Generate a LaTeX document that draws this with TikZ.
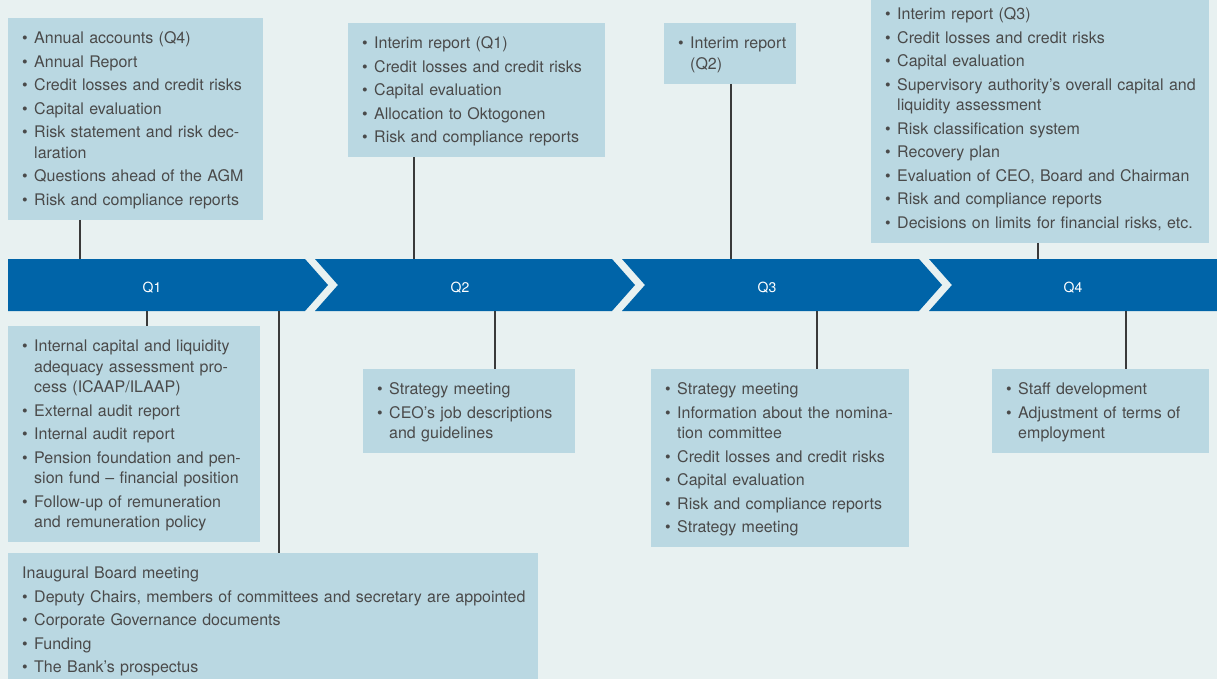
\documentclass[tikz,border=0pt]{standalone}
\usepackage{fontspec}
\setmainfont{TeX Gyre Heros}

\definecolor{bgcol}{HTML}{E8F1F1}
\definecolor{boxcol}{HTML}{BAD8E2}
\definecolor{barcol}{HTML}{0064A8}
\definecolor{txtcol}{HTML}{4A4A4A}
\definecolor{linecol}{HTML}{3A3A3A}

\newcommand\bul{\makebox[12pt][l]{\textbullet}}
\newcommand\cont{\hspace*{12pt}}
\newcommand\upr{\rule{0pt}{14.5pt}}
\newcommand\dnr{\rule[-3.5pt]{0pt}{3.5pt}}
\newcommand\nxt{\\[3pt]}

\tikzset{
  note/.style={fill=boxcol, text=txtcol, anchor=north west, inner xsep=14pt,
    inner ysep=11pt, align=left, font=\fontsize{16}{20.5}\selectfont},
  link/.style={draw=linecol, line width=1.2pt},
  qlabel/.style={text=white, font=\fontsize{14}{17}\selectfont},
  segment/.style={fill=barcol}
}

\begin{document}
\begin{tikzpicture}[x=1pt,y=-1pt]
\useasboundingbox (0,0) rectangle (1217,679);
\fill[bgcol] (0,0) rectangle (1217,679);

% timeline bar
\fill[segment] (8,259) -- (305,259) -- (328,285) -- (305,311) -- (8,311) -- cycle;
\foreach \s in {315,622}
  \fill[segment] (\s,259) -- ++(297,0) -- ++(23,26) -- ++(-23,26) -- ++(-297,0) -- ++(23,-26) -- cycle;
\fill[segment] (929,259) -- (1217,259) -- (1217,311) -- (929,311) -- (952,285) -- cycle;

\node[qlabel] (q1) at (152,288) {Q1};
\node[qlabel] (q2) at (460,288) {Q2};
\node[qlabel] (q3) at (767,288) {Q3};
\node[qlabel] (q4) at (1073,288) {Q4};

% above the bar
\node[note, text width=227pt] (accounts) at (8,18) {\upr\bul Annual accounts (Q4)\nxt
  \bul Annual Report\nxt
  \bul Credit losses and credit risks\nxt
  \bul Capital evaluation\nxt
  \bul Risk statement and risk dec-\\\cont laration\nxt
  \bul Questions ahead of the AGM\nxt
  \bul Risk and compliance reports\dnr};

\node[note, text width=229pt] (interimone) at (348,23) {\upr\bul Interim report (Q1)\nxt
  \bul Credit losses and credit risks\nxt
  \bul Capital evaluation\nxt
  \bul Allocation to Oktogonen\nxt
  \bul Risk and compliance reports\dnr};

\node[note, text width=104pt] (interimtwo) at (664,23) {\upr\bul\mbox{Interim report}\\\cont(Q2)\dnr};

\node[note, text width=310pt] (interimthree) at (871,-6) {\upr\bul Interim report (Q3)\nxt
  \bul Credit losses and credit risks\nxt
  \bul Capital evaluation\nxt
  \bul\mbox{Supervisory authority’s overall capital and}\\\cont liquidity assessment\nxt
  \bul Risk classification system\nxt
  \bul Recovery plan\nxt
  \bul Evaluation of CEO, Board and Chairman\nxt
  \bul Risk and compliance reports\nxt
  \bul\mbox{Decisions on limits for financial risks, etc.}\dnr};

% below the bar
\node[note, text width=224pt] (icaap) at (8,326) {\upr\bul Internal capital and liquidity\\
  \cont adequacy assessment pro-\\\cont cess (ICAAP/ILAAP)\nxt
  \bul External audit report\nxt
  \bul Internal audit report\nxt
  \bul\mbox{Pension foundation and pen-}\\\cont sion fund – financial position\nxt
  \bul Follow-up of remuneration\\\cont and remuneration policy\dnr};

\node[note, text width=184pt] (strategy) at (363,369) {\upr\bul Strategy meeting\nxt
  \bul CEO’s job descriptions\\\cont and guidelines\dnr};

\node[note, text width=230pt] (nomination) at (651,369) {\upr\bul Strategy meeting\nxt
  \bul\mbox{Information about the nomina-}\\\cont tion committee\nxt
  \bul Credit losses and credit risks\nxt
  \bul Capital evaluation\nxt
  \bul Risk and compliance reports\nxt
  \bul Strategy meeting\dnr};

\node[note, text width=189pt] (staff) at (992,369) {\upr\bul Staff development\nxt
  \bul\mbox{Adjustment of terms of}\\\cont employment\dnr};

\node[note, text width=502pt] (inaugural) at (8,553) {\upr Inaugural Board meeting\nxt
  \bul\mbox{Deputy Chairs, members of committees and secretary are appointed}\nxt
  \bul Corporate Governance documents\nxt
  \bul Funding\nxt
  \bul The Bank’s prospectus\dnr};

% connectors
\coordinate (ta) at (80,259);
\coordinate (tb) at (414,259);
\coordinate (tc) at (731,259);
\coordinate (td) at (1038,259);
\coordinate (ba) at (147,311);
\coordinate (bb) at (279,311);
\coordinate (bc) at (495,311);
\coordinate (bd) at (817,311);
\coordinate (be) at (1126,311);

\draw[link] (accounts.south -| ta) -- (ta);
\draw[link] (interimone.south -| tb) -- (tb);
\draw[link] (interimtwo.south -| tc) -- (tc);
\draw[link] (interimthree.south -| td) -- (td);
\draw[link] (ba) -- (ba |- icaap.north);
\draw[link] (bb) -- (bb |- inaugural.north);
\draw[link] (bc) -- (bc |- strategy.north);
\draw[link] (bd) -- (bd |- nomination.north);
\draw[link] (be) -- (be |- staff.north);
\end{tikzpicture}
\end{document}
